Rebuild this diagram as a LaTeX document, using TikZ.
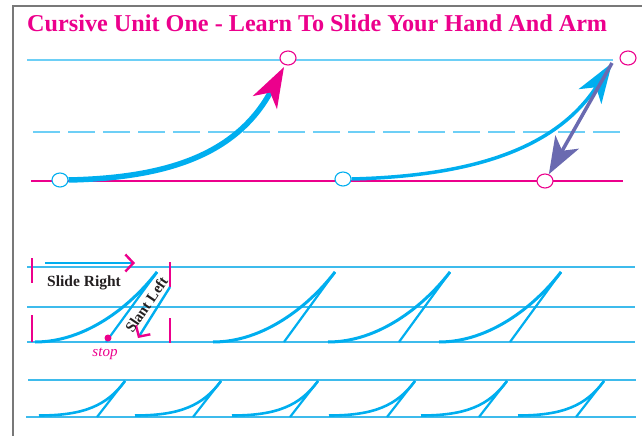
\documentclass[tikz,border=0pt]{standalone}
\usepackage{fontspec}
\setmainfont{Liberation Serif}
\usetikzlibrary{arrows.meta,shapes.geometric}
\definecolor{cmag}{RGB}{236,0,140}
\definecolor{cblue}{RGB}{0,174,239}
\definecolor{cguide}{RGB}{109,207,246}
\definecolor{crow}{RGB}{62,187,236}
\definecolor{cpurple}{RGB}{106,106,176}
\definecolor{cframe}{RGB}{120,120,120}
\definecolor{ctext}{RGB}{35,31,32}
\tikzset{
  ring/.style={ellipse, draw=#1, fill=white, line width=1.1pt, minimum width=16pt, minimum height=14pt, inner sep=0pt},
  guide/.style={draw=cguide, line width=1.4pt},
  rowguide/.style={draw=crow, line width=1.4pt},
  tick/.style={draw=cmag, line width=2.4pt},
  curvestroke/.style={draw=cblue, line width=3pt},
  slantstroke/.style={draw=cblue, line width=2.2pt},
  smallstroke/.style={draw=cblue, line width=2.6pt},
  bigtip/.style={-{Stealth[length=40pt,width=27pt,inset=11pt,color=#1]}},
  barb/.style={-{Straight Barb[length=8pt,width=17pt,color=cmag,line width=2.4pt]}},
  lbl/.style={font=\bfseries\fontsize{15.5}{17}\selectfont, text=ctext, inner sep=0pt}
}
\begin{document}
\begin{tikzpicture}[x=1pt,y=-1pt]
\useasboundingbox (0,0) rectangle (642,436);
% frame
\draw[cframe, line width=1.5pt] (13,436) -- (13,6) -- (642,6);
% title
\node[anchor=base west, inner sep=0pt, text=cmag, font=\bfseries\fontsize{24.2}{26}\selectfont] (title) at (27,32) {Cursive Unit One - Learn To Slide Your Hand And Arm};
% top guide lines
\draw[guide] (27,60) -- (613,60);
\draw[guide, dash pattern=on 27pt off 8pt] (33,132) -- (622,132);
\draw[draw=cmag, line width=1.3pt] (31,181) -- (623,181);
% circles
\node[ring=cblue] (c1) at (60,180) {};
\node[ring=cmag] (c2) at (288,58) {};
\node[ring=cblue] (c3) at (343,179) {};
\node[ring=cmag] (c4) at (628,58) {};
\node[ring=cmag] (c5) at (545,181) {};
\coordinate (tipL) at (284,67);
\coordinate (tipR) at (612,63);
% left curve
\draw[draw=cblue, line width=5.5pt, bigtip=cmag] (c1.east) .. controls (160,178) and (235,158) .. (tipL);
% right curve
\draw[draw=cblue, line width=3.5pt, bigtip=cblue] (c3.east) .. controls (470,176) and (555,150) .. (tipR);
% purple arrow
\draw[draw=cpurple, line width=3.5pt, -{Stealth[length=37pt,width=27pt,inset=10pt]}] (tipR) -- (c5);
% row 2 guides
\draw[rowguide] (27,267) -- (635,267);
\draw[rowguide] (27,307) -- (635,307);
\draw[rowguide] (27,342) -- (635,342);
% row 2 strokes
\foreach \x in {35,213,328,439} {
  \draw[curvestroke] (\x,342) .. controls ({\x+50},342) and ({\x+95},307) .. ({\x+122},272);
  \draw[slantstroke] ({\x+122},272) -- ({\x+71},342);
}
% ticks
\draw[tick] (32,258) -- (32,283);
\draw[tick] (32,315) -- (32,342);
\draw[tick] (170,262) -- (170,287);
\draw[tick] (170,318) -- (170,343);
% slide right arrow
\coordinate (srA) at (45,263);
\coordinate (srB) at (135,263);
\draw[draw=cblue, line width=2.4pt, barb] (srA) -- (srB);
\node[lbl, anchor=base west] (slide) at (47,286) {Slide Right};
% slant left arrow
\coordinate (slA) at (170,287);
\coordinate (slB) at (138,338);
\draw[draw=cblue, line width=2.4pt, barb] (slA) -- (slB);
\node[lbl, rotate=56, font=\bfseries\fontsize{15}{17}\selectfont] (slant) at (146.5,304.5) {Slant Left};
% stop dot
\node[circle, fill=cmag, minimum size=7pt, inner sep=0pt] (dot) at (108,338) {};
\node[inner sep=0pt, text=cmag, font=\itshape\fontsize{15}{17}\selectfont] (stop) at (105,354) {stop};
% row 3 guides
\draw[rowguide] (28,380) -- (636,380);
\draw[rowguide] (26,417) -- (636,417);
% row 3 strokes
\foreach \x in {39,135,232,329,421,518} {
  \draw[smallstroke] (\x,415.5) .. controls ({\x+45},415.5) and ({\x+68},405.5) .. ({\x+86},381);
  \draw[slantstroke] ({\x+86},381) -- ({\x+58},417);
}
\end{tikzpicture}
\end{document}
